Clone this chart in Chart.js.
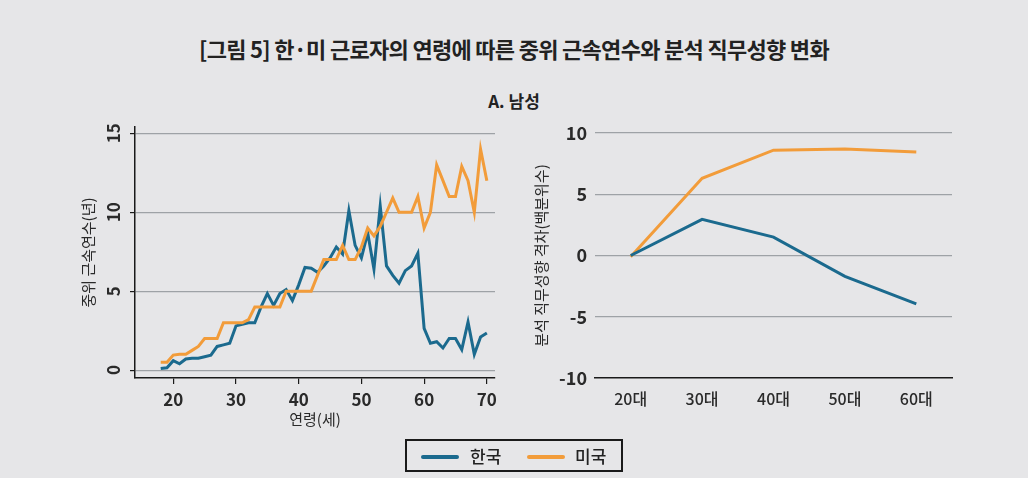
<!DOCTYPE html>
<html>
<head>
<meta charset="utf-8">
<script src="https://cdn.jsdelivr.net/npm/chart.js@4"></script>
<style>
  html, body { margin: 0; padding: 0; }
  body { width: 1028px; height: 478px; background: #e6e6e8; position: relative; overflow: hidden;
         font-family: "Noto Sans CJK KR", "Noto Sans", sans-serif; color: #222; }
  #title { position: absolute; left: 0; top: 33px; width: 1028px; text-align: center;
           font-size: 22px; font-weight: 700; letter-spacing: -0.7px; line-height: 30px; }
  #subtitle { position: absolute; left: 0; top: 90px; width: 1028px; text-align: center;
              font-size: 17px; font-weight: 700; line-height: 22px; }
  canvas { position: absolute; }
  #leftChart { left: 60px; top: 120px; }
  #rightChart { left: 520px; top: 120px; }
  #legend { position: absolute; left: 405px; top: 439px; width: 218px; height: 33px; box-sizing: border-box;
            border: 2px solid #1a1a1a; font-size: 17px; font-weight: 500; }
  .item { position: absolute; top: 4px; line-height: 22px; }
  .swatch { position: absolute; top: 14px; height: 4px; border-radius: 2px; }
</style>
</head>
<body>
<div id="title">[그림 5] 한·미 근로자의 연령에 따른 중위 근속연수와 분석 직무성향 변화</div>
<div id="subtitle">A. 남성</div>
<canvas id="leftChart" width="450" height="320"></canvas>
<canvas id="rightChart" width="470" height="320"></canvas>
<div id="legend">
  <div class="swatch" style="left:14px;width:38px;background:#1b6a8e"></div>
  <div class="item" style="left:63px">한국</div>
  <div class="swatch" style="left:120px;width:38px;background:#f29c3a"></div>
  <div class="item" style="left:168px">미국</div>
</div>
<script>
const ages = [18, 19, 20, 21, 22, 23, 24, 25, 26, 27, 28, 29, 30, 31, 32, 33, 34, 35, 36, 37, 38, 39, 40, 41, 42, 43, 44,
              45, 46, 47, 48, 49, 50, 51, 52, 53, 54, 55, 56, 57, 58, 59, 60, 61, 62, 63, 64, 65, 66, 67, 68, 69, 70];
const koreaTenure = [0.1, 0.15, 0.6, 0.4, 0.7, 0.75, 0.75, 0.85, 0.95, 1.5, 1.6, 1.7, 2.8, 2.9, 3.0, 3.0, 4.0, 4.85, 4.1,
                     4.85, 5.1, 4.4, 5.4, 6.5, 6.45, 6.2, 6.6, 7.1, 7.8, 7.35, 10.1, 7.9, 7.1, 8.7, 6.4, 10.4, 6.6, 6.0,
                     5.5, 6.3, 6.6, 7.4, 2.65, 1.7, 1.8, 1.4, 2.0, 2.0, 1.3, 3.05, 1.0, 2.1, 2.35];
const usTenure = [0.5, 0.5, 0.95, 1.0, 1.0, 1.25, 1.5, 2.0, 2.0, 2.0, 3.0, 3.0, 3.0, 3.0, 3.2, 4.0, 4.0, 4.0, 4.0, 4.0,
                  5.0, 5.0, 5.0, 5.0, 5.0, 6.0, 7.0, 7.0, 7.0, 7.9, 7.0, 7.0, 7.8, 9.0, 8.5, 9.1, 10.0, 10.9, 10.0, 10.0,
                  10.0, 11.0, 9.0, 10.0, 13.0, 12.0, 11.0, 11.0, 12.9, 12.0, 10.0, 14.0, 12.0];
const ageTicks = [20, 30, 40, 50, 60, 70];
const tenureTicks = [0, 5, 10, 15];

const ageGroups = ['20대', '30대', '40대', '50대', '60대'];
const koreaGap = [0, 2.95, 1.5, -1.7, -3.95];
const usGap = [-0.1, 6.3, 8.6, 8.7, 8.45];
const gapTicks = [-10, -5, 0, 5, 10];

const BLUE = '#1b6a8e';
const ORANGE = '#f29c3a';
const GRID = '#9ea2a6';
const AXIS = '#1a1a1a';
const TEXT = '#2a2a2a';
const FONT = '"Noto Sans CJK KR", "Noto Sans", sans-serif';

function toPoints(xs, ys) {
    return xs.map((x, i) => ({ x: x, y: ys[i] }));
}
function fixedTicks(values) {
    return (scale) => { scale.ticks = values.map((v) => ({ value: v })); };
}
function fitSize(prop, size) {
    return (scale) => {
        scale[prop] = size;
        scale.paddingTop = 0; scale.paddingBottom = 0;
        scale.paddingLeft = 0; scale.paddingRight = 0;
    };
}

new Chart(document.getElementById('leftChart'), {
    type: 'line',
    data: {
        datasets: [
            { label: '미국', data: toPoints(ages, usTenure), borderColor: ORANGE, borderWidth: 3, pointRadius: 0, fill: false },
            { label: '한국', data: toPoints(ages, koreaTenure), borderColor: BLUE, borderWidth: 3, pointRadius: 0, fill: false },
        ],
    },
    options: {
        responsive: false,
        animation: false,
        layout: { padding: { top: 7, right: 15, left: 0, bottom: 0 } },
        plugins: { legend: { display: false }, tooltip: { enabled: false } },
        scales: {
            x: {
                type: 'linear', min: 13.9, max: 71.3,
                afterBuildTicks: fixedTicks(ageTicks),
                afterFit: fitSize('height', 62),
                grid: { drawOnChartArea: false, drawTicks: true, tickLength: 6, tickColor: AXIS, lineWidth: 1.2 },
                border: { display: true, color: AXIS, width: 1.5 },
                ticks: { color: TEXT, padding: 5, font: { family: FONT, size: 17, weight: '600' }, maxRotation: 0 },
                title: { display: true, text: '연령(세)', color: TEXT, font: { family: FONT, size: 15 }, padding: { top: 0, bottom: 12 } },
            },
            y: {
                type: 'linear', min: -0.5, max: 15.4,
                afterBuildTicks: fixedTicks(tenureTicks),
                afterFit: fitSize('width', 75),
                grid: { color: GRID, lineWidth: 1.2, drawTicks: true, tickLength: 5, tickColor: AXIS },
                border: { display: true, color: AXIS, width: 1.5 },
                ticks: { color: TEXT, padding: 6, crossAlign: 'center', minRotation: 90, maxRotation: 90,
                         font: { family: FONT, size: 17, weight: '600' } },
                title: { display: true, text: '중위 근속연수(년)', color: TEXT, font: { family: FONT, size: 15 }, padding: { top: 19, bottom: 0 } },
            },
        },
    },
});

new Chart(document.getElementById('rightChart'), {
    type: 'line',
    data: {
        labels: ageGroups,
        datasets: [
            { label: '한국', data: koreaGap, borderColor: BLUE, borderWidth: 3, pointRadius: 0, fill: false },
            { label: '미국', data: usGap, borderColor: ORANGE, borderWidth: 3, pointRadius: 0, fill: false },
        ],
    },
    options: {
        responsive: false,
        animation: false,
        layout: { padding: { top: 13, right: 38, left: 0, bottom: 0 } },
        plugins: { legend: { display: false }, tooltip: { enabled: false } },
        scales: {
            x: {
                offset: true,
                afterFit: fitSize('height', 62),
                grid: { display: false },
                border: { display: true, color: AXIS, width: 1.5 },
                ticks: { color: TEXT, padding: 3, font: { family: FONT, size: 16, weight: '500' }, maxRotation: 0 },
            },
            y: {
                min: -10, max: 10,
                afterBuildTicks: fixedTicks(gapTicks),
                afterFit: fitSize('width', 75),
                grid: { drawTicks: false, lineWidth: 1.2,
                        color: (c) => (c.tick && c.tick.value === -10 ? 'rgba(0,0,0,0)' : GRID) },
                border: { display: false },
                ticks: { color: TEXT, padding: 8, font: { family: FONT, size: 18, weight: '600' } },
                title: { display: true, text: '분석 직무성향 격차(백분위수)', color: TEXT, font: { family: FONT, size: 15 }, padding: { top: 12, bottom: 0 } },
            },
        },
    },
});
</script>
</body>
</html>
